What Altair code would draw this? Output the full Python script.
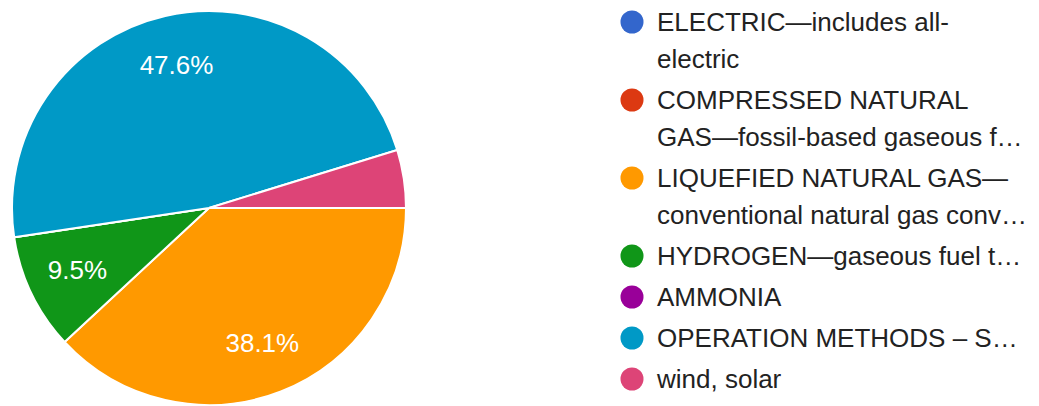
import math
import altair as alt
import pandas as pd

# ---- data ----
categories = [
    "ELECTRIC",
    "COMPRESSED NATURAL GAS",
    "LIQUEFIED NATURAL GAS",
    "HYDROGEN",
    "AMMONIA",
    "OPERATION METHODS",
    "wind, solar",
]
legend_lines = [
    ["ELECTRIC—includes all-", "electric"],
    ["COMPRESSED NATURAL", "GAS—fossil-based gaseous f…"],
    ["LIQUEFIED NATURAL GAS—", "conventional natural gas conv…"],
    ["HYDROGEN—gaseous fuel t…"],
    ["AMMONIA"],
    ["OPERATION METHODS – S…"],
    ["wind, solar"],
]
counts = [0, 0, 8, 2, 0, 10, 1]
colors = ["#3366cc", "#dc3912", "#ff9900", "#109618", "#990099", "#0099c6", "#dd4477"]

# ---- layout constants ----
CX, CY, R = 209, 208, 197
LABEL_R = 146
LEG_SYM_X, LEG_TXT_X = 632, 657
LEG_TOP, LINE_H, ENTRY_GAP = 22, 37, 4
FONT = "Liberation Sans, Arial, sans-serif"

total = sum(counts)
pie_df = pd.DataFrame({
    "name": categories,
    "count": counts,
    "order": list(range(len(categories))),
    "label": [f"{c / total * 100:.1f}%" if c / total >= 0.05 else "" for c in counts],
})

# legend rows: y of first line center for each entry
ypos = []
acc = LEG_TOP
for lines in legend_lines:
    ypos.append(acc)
    acc += len(lines) * LINE_H + ENTRY_GAP
leg_df = pd.DataFrame({
    "name": categories,
    "text": ["\n".join(l) for l in legend_lines],
    "ypos": ypos,
})

color = alt.Color("name:N", scale=alt.Scale(domain=categories, range=colors), legend=None)
theta = alt.Theta("count:Q", stack=True,
                  scale=alt.Scale(range=[math.pi / 2, math.pi / 2 + 2 * math.pi]))

base = alt.Chart(pie_df).encode(
    theta=theta,
    order=alt.Order("order:Q"),
    x=alt.value(CX),
    y=alt.value(CY),
)
arcs = base.mark_arc(outerRadius=R, stroke="white", strokeWidth=2).encode(color=color)
labels = base.mark_text(radius=LABEL_R, fontSize=26, font=FONT, fill="white").encode(
    text="label:N"
)

yscale = alt.Scale(domain=[0, 406], range=[0, 406])
leg_base = alt.Chart(leg_df).encode(
    y=alt.Y("ypos:Q", scale=yscale, axis=None),
)
leg_sym = leg_base.mark_point(filled=True, size=530, shape="circle", opacity=1).encode(
    x=alt.value(LEG_SYM_X), color=color
)
leg_txt = leg_base.mark_text(
    align="left", baseline="alphabetic", dy=9, fontSize=26, font=FONT,
    fill="#222222", lineBreak="\n", lineHeight=LINE_H,
).encode(x=alt.value(LEG_TXT_X), text="text:N")

chart = (
    alt.layer(arcs, labels, leg_sym, leg_txt)
    .resolve_scale(theta="shared")
    .properties(width=1039, height=406, autosize=alt.AutoSizeParams(type="none"),
                padding=0, background="white")
    .configure_view(stroke=None)
)

chart.save("out.html", embed_options={"renderer": "svg", "actions": False})
